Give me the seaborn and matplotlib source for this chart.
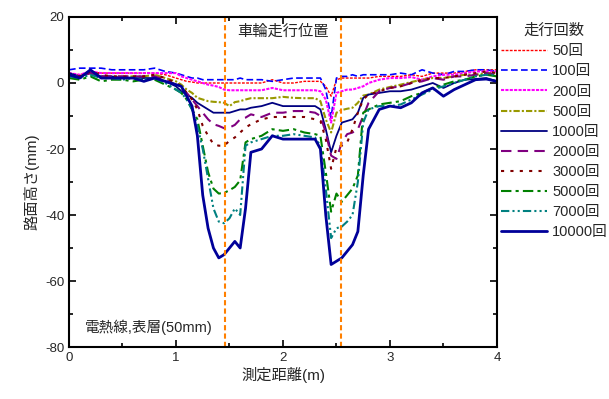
import numpy as np
import pandas as pd
import matplotlib
matplotlib.use('Agg')
import matplotlib.pyplot as plt
import seaborn as sns

# 測定位置 (m)
x_pos = [0, 0.1, 0.2, 0.3, 0.4, 0.5, 0.6, 0.7, 0.8, 0.9,
         1.0, 1.05, 1.1, 1.15, 1.2, 1.25, 1.3, 1.35, 1.4, 1.45,
         1.5, 1.55, 1.6, 1.65, 1.7, 1.8, 1.9, 2.0, 2.1, 2.2,
         2.3, 2.35, 2.4, 2.45, 2.5, 2.55, 2.6, 2.65, 2.7, 2.75,
         2.8, 2.9, 3.0, 3.1, 3.2, 3.3, 3.4, 3.5, 3.6, 3.7,
         3.8, 3.9, 4.0]

# 路面高さ (mm)
y_50 = [3, 2.5, 3.5, 3, 3, 3, 3, 3, 3, 2.5,
        1.5, 1, 0.5, 0.3, 0, 0, 0, 0, 0, 0,
        0, 0, 0, 0, 0, 0, 1, 0, 0, 0.5,
        0.5, 0.5, -1, -4, 1, 1.5, 1.5, 1.5, 1.5, 1.5,
        1.5, 2, 2, 2, 2.5, 2, 3, 3, 3, 3.5,
        4, 4, 4]
y_100 = [4, 4.5, 4.5, 4.5, 4, 4, 4, 4, 4.5, 3.5,
         3, 2.5, 2, 1.5, 1.5, 1, 1, 1, 1, 1,
         1, 1, 1.5, 1, 1, 1, 0.5, 1, 1.5, 1.5,
         1.5, 1.5, -2, -10.5, 1.5, 2, 2, 2.5, 2, 2.5,
         2.5, 2.5, 2.5, 3, 2.5, 4, 3, 2.5, 3.5, 3.5,
         4, 4, 3.5]
y_200 = [3, 2.5, 3.5, 3, 3, 3, 3, 3, 3, 3,
         3, 2, 1.5, 1, 0.5, 0, -0.5, -0.8, -1.2, -2,
         -2.2, -2.2, -2.2, -2.2, -2.2, -2.2, -1.5, -2.2, -2.2, -2.2,
         -2.2, -2.5, -5, -12, -3, -2.5, -2, -2, -1.5, -1,
         0, 1, 1.5, 1.5, 1.8, 1, 2, 2.5, 2.5, 3,
         3.5, 3.5, 3.5]
y_500 = [2.5, 2, 3, 2, 2, 2, 2, 2, 2.5, 1.5,
         0.5, -0.5, -2, -3, -4.5, -5, -5.5, -5.7, -5.8, -6,
         -7, -5.8, -5.5, -5, -4.6, -4.6, -4.6, -4.2, -4.5, -4.6,
         -4.6, -5.5, -11, -15, -9, -8.2, -7.8, -7.5, -6, -3.8,
         -3.5, -2, -1.2, -0.5, 0.3, 1, 1.5, 1.5, 2, 2.5,
         2.5, 3, 3]
y_1000 = [3, 2, 3, 2, 2, 1.5, 1.5, 1.5, 1.5, 0.5,
          -1, -2.5, -3.5, -4.5, -6, -7, -8, -9, -9, -9,
          -9, -8.5, -8, -8, -7.5, -7, -6, -7, -7, -7,
          -7, -8, -14, -21, -16, -12, -11.5, -11, -9, -4.5,
          -3.5, -3, -2.5, -2.5, -2, -1, 0, -1.5, 0, 1,
          1.2, 1.5, 0.5]
y_2000 = [2, 2, 3, 2, 2, 2, 2, 2, 2, 1,
          -0.5, -1.5, -3, -5, -7, -9, -11, -12.5, -13, -13.7,
          -13.5, -12.7, -11, -10.5, -9.5, -10.3, -9, -9, -8.5, -8.5,
          -9, -10, -15, -22, -23, -18, -15.5, -15, -14, -10,
          -6, -2.5, -1.5, -1, 0, 0.5, 1.5, 1, 2, 2,
          2.5, 3, 2.5]
y_3000 = [2.5, 2, 3.5, 2.5, 2, 2, 2, 2, 2.5, 1.5,
          0, -1, -3, -5, -8, -13, -16, -18.5, -19, -19,
          -17.5, -16.5, -15, -13.5, -12.5, -11, -10.3, -10.3, -10.3, -10.3,
          -11, -11.5, -17, -26, -19.5, -19, -18, -14, -9, -5,
          -3.5, -2.5, -1.5, -1, 0, 1, 1.5, 1.5, 2, 2.5,
          3, 3.5, 3]
y_5000 = [1.5, 1, 2, 0.5, 1, 1, 0.5, 1, 1, -0.5,
          -2, -3, -5, -8, -11, -19, -27, -32, -33.5, -33.3,
          -32.5, -31.5, -29.5, -18, -17, -16, -14, -14.5, -14, -15,
          -15.5, -16, -27, -39, -33.5, -36, -34, -32, -28, -9,
          -8, -6.5, -6, -5.5, -4, -3, -1.5, -0.5, 0.5, 1,
          2, 2.5, 2]
y_7000 = [2, 1.5, 2.5, 1.5, 1.5, 1, 1.5, 1, 1.5, 0,
          -2, -3, -5, -8, -13, -20, -29, -38, -42, -42.5,
          -41, -38, -40, -19, -18, -17, -16, -16, -15.5, -16,
          -16.5, -19, -32, -47, -44, -43.5, -42, -40, -30, -12,
          -8, -7, -7, -6.5, -5, -3.5, -2, -1, 0, 1,
          2, 2.5, 2.5]
y_10000 = [2.5, 1.5, 4, 1.5, 1.5, 1.5, 1.5, 0.5, 1.5, 0.5,
           -0.5, -1, -4, -7, -16, -34, -44, -50, -53, -52,
           -50, -48, -50, -38, -21, -20, -16, -17, -17, -17,
           -17, -20, -40, -55, -54, -53, -51, -49, -45, -28,
           -14, -8, -7, -7.5, -6, -3, -1.5, -4, -2, -0.5,
           1, 1.2, 0.5]

labels = ['50回', '100回', '200回', '500回', '1000回',
          '2000回', '3000回', '5000回', '7000回', '10000回']
series = [y_50, y_100, y_200, y_500, y_1000,
          y_2000, y_3000, y_5000, y_7000, y_10000]
colors = ['#FF0000', '#0000FF', '#FF00FF', '#999900', '#000080',
          '#800080', '#800000', '#008000', '#008080', '#000099']
styles = [(0, (2, 1)), (0, (4, 2)), (0, (1.5, 0.6)), (0, (3, 1, 1, 1)), '-',
          (0, (5, 3)), (0, (1.5, 3)), (0, (5, 2, 1.5, 2)),
          (0, (4, 1.5, 1, 1.5, 1, 1.5)), '-']
widths = [1.0, 1.2, 1.5, 1.5, 1.3, 1.5, 1.5, 1.5, 1.5, 2.0]

wheel_pos = [1.46, 2.54]

sns.set_style('ticks')
plt.rcParams['font.family'] = ['Liberation Sans', 'Noto Sans CJK JP', 'DejaVu Sans']
plt.rcParams['axes.unicode_minus'] = False

fig = plt.figure(figsize=(6.09, 3.99), dpi=100)
ax = fig.add_axes([0.1133, 0.1303, 0.7027, 0.8271])

for lab, ys, c, ls, lw in zip(labels, series, colors, styles, widths):
    sns.lineplot(x=x_pos, y=ys, ax=ax, color=c, linestyle=ls, lw=lw, label=lab)

for xv in wheel_pos:
    ax.axvline(xv, color='#FF8000', linestyle=(0, (2.5, 1.5)), lw=1.5)

ax.set_xlim(0, 4)
ax.set_ylim(-80, 20)
ax.set_xticks([0, 1, 2, 3, 4])
ax.set_xticks([0.5, 1.5, 2.5, 3.5], minor=True)
ax.set_yticks([20, 0, -20, -40, -60, -80])
ax.set_yticks([10, -10, -30, -50, -70], minor=True)
ax.tick_params(which='both', direction='in', top=True, right=True,
               labelsize=9.5, width=1.2, color='black')
ax.tick_params(which='major', length=5)
ax.tick_params(which='minor', length=3)
for sp in ax.spines.values():
    sp.set_linewidth(1.5)
    sp.set_color('black')

ax.set_xlabel('測定距離(m)', fontsize=11, labelpad=2)
ax.set_ylabel('路面高さ(mm)', fontsize=11, labelpad=4)

ax.text(2.0, 15.5, '車輪走行位置', fontsize=11, ha='center', va='center')
ax.text(0.15, -74, '電熱線,表層(50mm)', fontsize=10.5, ha='left', va='center')

ax.legend(title='走行回数', loc='upper left', bbox_to_anchor=(0.822, 0.94),
          bbox_transform=fig.transFigure, frameon=False, fontsize=10.5,
          title_fontsize=11, handlelength=3.2, handletextpad=0.35,
          labelspacing=0.42, borderpad=0, borderaxespad=0)

fig.savefig('out.png', dpi=100)
